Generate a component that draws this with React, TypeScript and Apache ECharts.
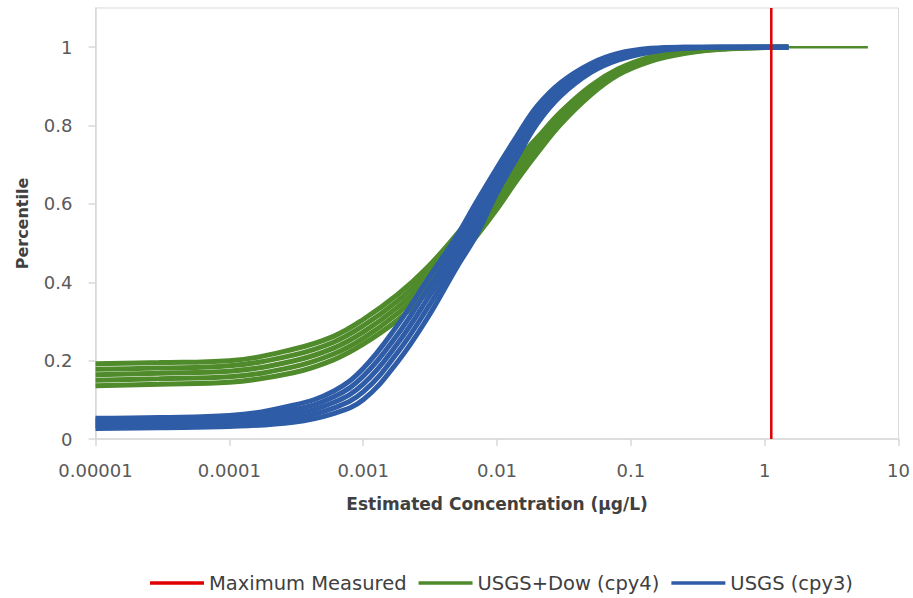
import React, { useEffect, useRef } from "react";
import * as echarts from "echarts";

// Concentration grid (µg/L) shared by all realisation curves
const xValues = [
  0.00001, 0.00003, 0.0001, 0.0003, 0.0006, 0.001, 0.0018, 0.003, 0.005, 0.007,
  0.01, 0.014, 0.02, 0.03, 0.05, 0.08, 0.14, 0.25, 0.5, 1, 1.5,
];

// USGS+Dow (cpy4) realisations
const green1 = [0.192, 0.195, 0.2, 0.229, 0.262, 0.305, 0.368, 0.437, 0.522, 0.583, 0.645, 0.711, 0.769, 0.835, 0.901, 0.944, 0.975, 0.992, 0.999, 1.0, 1.0];
const green2 = [0.178, 0.181, 0.187, 0.214, 0.247, 0.289, 0.352, 0.422, 0.506, 0.566, 0.63, 0.698, 0.759, 0.827, 0.895, 0.94, 0.972, 0.99, 0.998, 1.0, 1.0];
const green3 = [0.164, 0.168, 0.173, 0.199, 0.232, 0.273, 0.336, 0.406, 0.49, 0.55, 0.615, 0.685, 0.75, 0.82, 0.89, 0.937, 0.97, 0.988, 0.997, 1.0, 1.0];
const green4 = [0.15, 0.154, 0.159, 0.184, 0.217, 0.257, 0.32, 0.39, 0.473, 0.534, 0.601, 0.672, 0.74, 0.812, 0.884, 0.933, 0.967, 0.986, 0.996, 0.999, 1.0];
const green5 = [0.136, 0.14, 0.145, 0.169, 0.202, 0.242, 0.303, 0.373, 0.456, 0.517, 0.587, 0.659, 0.73, 0.804, 0.878, 0.929, 0.964, 0.984, 0.995, 0.999, 1.0];
const greenTailX = [1.5, 5.9];
const greenTail = [1.0, 1.0];

// USGS (cpy3) realisations
const blue1 = [0.053, 0.055, 0.06, 0.086, 0.122, 0.18, 0.29, 0.405, 0.518, 0.604, 0.692, 0.772, 0.85, 0.91, 0.958, 0.984, 0.997, 1.0, 1.0, 1.0, 1.0];
const blue2 = [0.047, 0.049, 0.053, 0.075, 0.107, 0.16, 0.266, 0.38, 0.498, 0.583, 0.676, 0.758, 0.84, 0.902, 0.953, 0.98, 0.995, 1.0, 1.0, 1.0, 1.0];
const blue3 = [0.04, 0.042, 0.046, 0.064, 0.093, 0.14, 0.243, 0.356, 0.478, 0.562, 0.66, 0.745, 0.83, 0.895, 0.948, 0.976, 0.993, 0.999, 1.0, 1.0, 1.0];
const blue4 = [0.034, 0.036, 0.039, 0.053, 0.079, 0.12, 0.22, 0.332, 0.458, 0.541, 0.644, 0.731, 0.818, 0.886, 0.942, 0.972, 0.99, 0.998, 1.0, 1.0, 1.0];
const blue5 = [0.027, 0.029, 0.032, 0.043, 0.065, 0.1, 0.196, 0.307, 0.438, 0.52, 0.628, 0.716, 0.805, 0.876, 0.935, 0.967, 0.987, 0.997, 1.0, 1.0, 1.0];

// Maximum measured concentration (vertical marker)
const maxMeasuredX = [1.12, 1.12];
const maxMeasuredY = [0, 1.1];

const xTickLabels = ["0.00001", "0.0001", "0.001", "0.01", "0.1", "1", "10"];
const yTickValues = [0, 0.2, 0.4, 0.6, 0.8, 1];

const NAME_MAX = "Maximum Measured";
const NAME_GREEN = "USGS+Dow (cpy4)";
const NAME_BLUE = "USGS (cpy3)";

const GREEN = "#4f8a2b";
const BLUE = "#2f5ca6";
const RED = "#e00000";
const FONT = "DejaVu Sans";

function pairs(xs: number[], ys: number[]) {
  return xs.map((x, i) => [x, ys[i]]);
}

function curve(name: string, color: string, ys: number[], width = 5) {
  return {
    name,
    type: "line",
    data: pairs(xValues, ys),
    symbol: "none",
    showSymbol: false,
    smooth: 0.4,
    lineStyle: { color, width },
    itemStyle: { color },
    emphasis: { disabled: true },
  };
}

export default function App() {
  const ref = useRef<HTMLDivElement>(null);

  useEffect(() => {
    if (!ref.current) return;
    const chart = echarts.init(ref.current, undefined, { renderer: "svg" });

    const series: any[] = [
      ...[green1, green2, green3, green4, green5].map((g) => curve(NAME_GREEN, GREEN, g)),
      {
        name: NAME_GREEN,
        type: "line",
        data: pairs(greenTailX, greenTail),
        symbol: "none",
        lineStyle: { color: GREEN, width: 2.5 },
        itemStyle: { color: GREEN },
      },
      ...[blue1, blue2, blue3, blue4, blue5].map((b) => curve(NAME_BLUE, BLUE, b)),
      {
        name: NAME_MAX,
        type: "line",
        data: pairs(maxMeasuredX, maxMeasuredY),
        symbol: "none",
        lineStyle: { color: RED, width: 2.5 },
        itemStyle: { color: RED },
        z: 5,
      },
    ];

    chart.setOption({
      animation: false,
      textStyle: { fontFamily: FONT },
      grid: {
        left: 95.5,
        right: 14,
        top: 8,
        bottom: 159,
        show: true,
        borderColor: "#d9d9d9",
        borderWidth: 1,
      },
      xAxis: {
        type: "log",
        logBase: 10,
        min: 0.00001,
        max: 10,
        splitNumber: 6,
        name: "Estimated Concentration (µg/L)",
        nameLocation: "middle",
        nameGap: 56,
        nameTextStyle: { fontFamily: FONT, fontWeight: "bold", fontSize: 17, color: "#404040" },
        axisLine: { lineStyle: { color: "#d9d9d9", width: 1.5 } },
        axisTick: { show: true, length: 7, lineStyle: { color: "#d9d9d9", width: 1.5 } },
        minorTick: { show: false },
        splitLine: { show: false },
        axisLabel: {
          fontFamily: FONT,
          fontSize: 18,
          color: "#595959",
          margin: 22,
          formatter: (v: number) => {
            const idx = Math.round(Math.log10(v)) + 5;
            return xTickLabels[idx] ?? "";
          },
        },
      },
      yAxis: {
        type: "value",
        min: 0,
        max: 1.1,
        interval: 0.2,
        name: "Percentile",
        nameLocation: "middle",
        nameGap: 65,
        nameTextStyle: { fontFamily: FONT, fontWeight: "bold", fontSize: 16, color: "#404040" },
        axisLine: { show: true, lineStyle: { color: "#d9d9d9", width: 1.5 } },
        axisTick: {
          show: true,
          length: 7,
          customValues: yTickValues,
          lineStyle: { color: "#d9d9d9", width: 1.5 },
        },
        splitLine: { show: false },
        axisLabel: {
          fontFamily: FONT,
          fontSize: 18,
          color: "#595959",
          margin: 23,
          customValues: yTickValues,
        },
      },
      legend: {
        data: [NAME_MAX, NAME_GREEN, NAME_BLUE],
        left: 150,
        top: 572,
        padding: 0,
        icon: "rect",
        itemWidth: 54,
        itemHeight: 3.5,
        itemGap: 12,
        textStyle: { fontFamily: FONT, fontSize: 19.5, color: "#404040", lineHeight: 22 },
      },
      series,
    });

    return () => chart.dispose();
  }, []);

  return (
    <div
      ref={ref}
      style={{ position: "fixed", left: 0, top: 0, width: 913, height: 598, background: "#fff" }}
    />
  );
}
